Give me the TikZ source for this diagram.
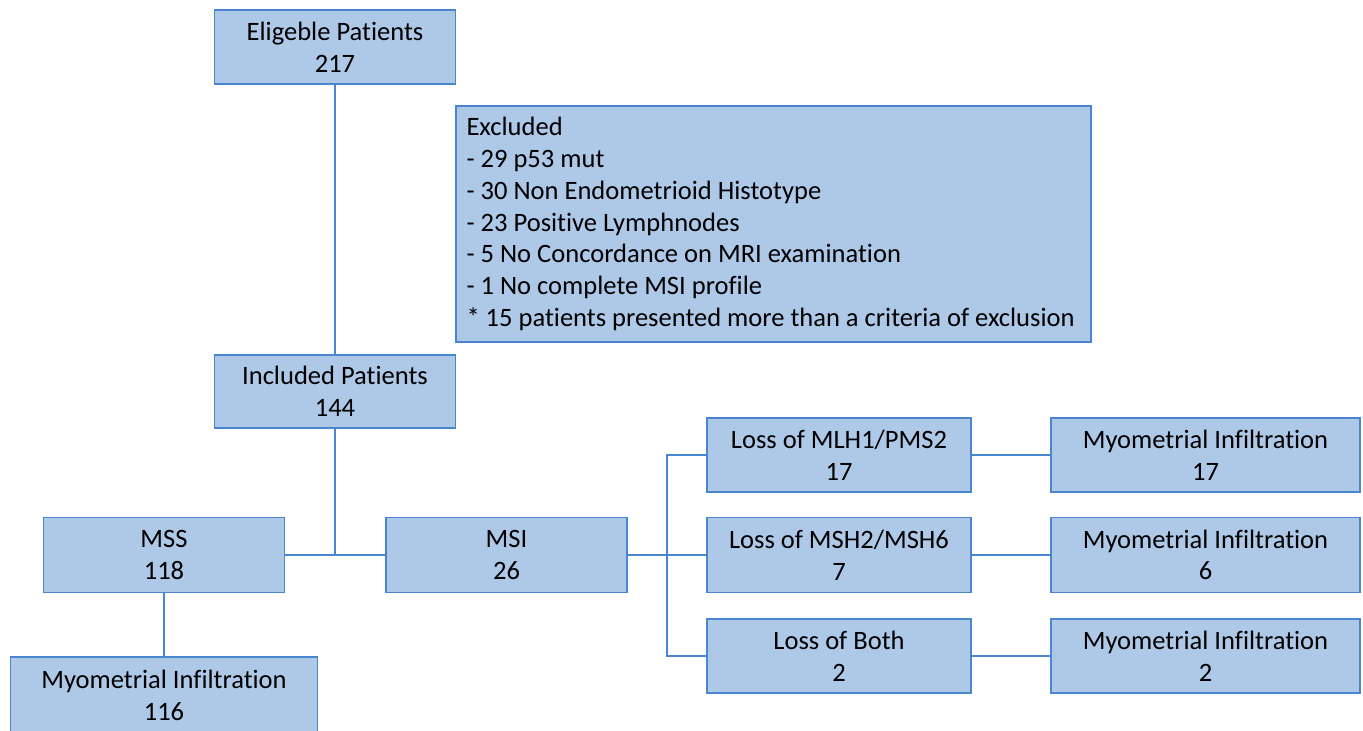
\documentclass[tikz,border=0pt]{standalone}
\usepackage{fontspec}
\setmainfont[Ligatures=NoCommon]{Carlito}
\definecolor{boxfill}{HTML}{AEC8E8}
\definecolor{boxline}{HTML}{4A86D0}
\begin{document}
\begin{tikzpicture}[x=0.75pt,y=-0.75pt,
  txt/.style={inner sep=0pt, font=\fontsize{19.9pt}{23.8pt}\selectfont},
  box/.style={txt, draw=boxline, fill=boxfill, line width=1.1pt, align=center},
  link/.style={draw=boxline, line width=1.5pt}]
\useasboundingbox (0,0) rectangle (1363,731);
\node[box, minimum width=180.75pt, minimum height=55.5pt] (elig) at (335,47) {Eligeble Patients\\217};
\node[box, minimum width=476.25pt, minimum height=177pt] (excl) at (773.5,224) {};
\node[txt, align=left, anchor=west] (excltext) at ([xshift=8.25pt]excl.west)
 {Excluded\\- 29 p53 mut\\- 30 Non Endometrioid Histotype\\- 23 Positive Lymphnodes\\- 5 No Concordance on MRI examination\\- 1 No complete MSI profile\\{}* 15 patients presented more than a criteria of exclusion};
\node[box, minimum width=180.75pt, minimum height=54.75pt] (incl) at (335,391.5) {Included Patients\\144};
\node[box, minimum width=180.75pt, minimum height=56.25pt] (mss) at (164,555) {MSS\\118};
\node[box, minimum width=180.75pt, minimum height=56.25pt] (msi) at (506.5,555) {MSI\\26};
\node[box, minimum width=230.25pt, minimum height=57.75pt] (myomss) at (164,695.5) {Myometrial Infiltration\\116};
\node[box, minimum width=198pt, minimum height=55.5pt] (loss1) at (839,455) {Loss of MLH1/PMS2\\17};
\node[box, minimum width=198pt, minimum height=56.25pt] (loss2) at (839,555) {Loss of MSH2/MSH6\\7};
\node[box, minimum width=198pt, minimum height=55.5pt] (loss3) at (839,656) {Loss of Both\\2};
\node[box, minimum width=231.75pt, minimum height=55.5pt] (myo1) at (1205.5,455) {Myometrial Infiltration\\17};
\node[box, minimum width=231.75pt, minimum height=56.25pt] (myo2) at (1205.5,555) {Myometrial Infiltration\\6};
\node[box, minimum width=231.75pt, minimum height=55.5pt] (myo3) at (1205.5,656) {Myometrial Infiltration\\2};
\coordinate (j1) at (335,555);
\coordinate (j2) at (667,555);
\draw[link] (elig) -- (incl);
\draw[link] (incl) -- (j1);
\draw[link] (mss) -- (msi);
\draw[link] (mss) -- (myomss);
\draw[link] (msi) -- (loss2);
\draw[link] (loss1.west) -| (j2) |- (loss3.west);
\draw[link] (loss1) -- (myo1);
\draw[link] (loss2) -- (myo2);
\draw[link] (loss3) -- (myo3);
\end{tikzpicture}
\end{document}
